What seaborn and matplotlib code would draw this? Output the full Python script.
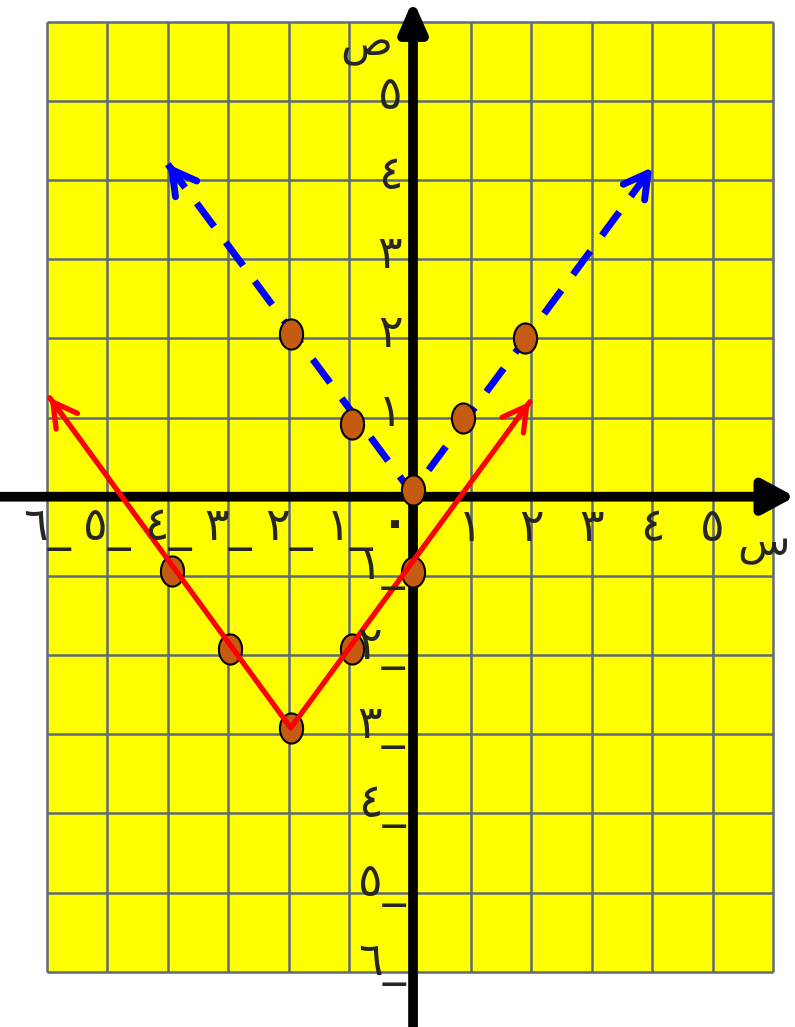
import numpy as np
import matplotlib
matplotlib.use("Agg")
import matplotlib.pyplot as plt
from matplotlib.patches import Rectangle
from matplotlib.path import Path
import seaborn as sns

# blue dashed graph  ص = |س|
blue_line_x = [-4.0, 0.03, 4.0]
blue_line_y = [4.2, 0.05, 4.16]
blue_pts_x = [-1.97, -0.96, 0.05, 0.88, 1.9]
blue_pts_y = [2.05, 0.92, 0.08, 1.0, 2.0]

# red graph  ص = |س+2| - 3
red_line_x = [-5.95, -1.97, 1.98]
red_line_y = [1.25, -2.92, 1.2]
red_pts_x = [-3.93, -2.97, -1.97, -0.96, 0.05]
red_pts_y = [-0.94, -1.92, -2.92, -1.92, -0.95]

ticks = [-6, -5, -4, -3, -2, -1, 1, 2, 3, 4, 5]
digits = "٠١٢٣٤٥٦٧٨٩"


def ar(n):
    s = "".join(digits[int(c)] for c in str(abs(n)))
    return s + "_" if n < 0 else s


sns.set_style("white")
plt.rcParams['font.family'] = ['DejaVu Sans']

fig = plt.figure(figsize=(7.95, 10.27), dpi=100)
ax = fig.add_axes([0, 0, 1, 1])
ax.set_xlim(-6.771, 6.358)
ax.set_ylim(-6.698, 6.274)
ax.axis('off')

# yellow grid paper
ax.add_patch(Rectangle((-6, -6), 12, 12, fc='#ffff00', ec='none', zorder=0))
grid_c = '#5e6b7b'
ax.vlines(np.arange(-6, 7), -6, 6, color=grid_c, lw=1.8, zorder=1)
ax.hlines(np.arange(-6, 7), -6, 6, color=grid_c, lw=1.8, zorder=1)

# coordinate axes
ax.annotate('', xy=(6.358, 0), xytext=(-6.771, 0),
            arrowprops=dict(arrowstyle='-|>,head_length=0.5,head_width=0.27',
                            lw=7, color='black', mutation_scale=38,
                            shrinkA=0, shrinkB=0), zorder=2)
ax.annotate('', xy=(0.05, 6.274), xytext=(0.05, -6.698),
            arrowprops=dict(arrowstyle='-|>,head_length=0.5,head_width=0.22',
                            lw=7, color='black', mutation_scale=36,
                            shrinkA=0, shrinkB=0), zorder=2)

# blue dashed line
sns.lineplot(x=blue_line_x, y=blue_line_y, ax=ax, color='#0000ff', lw=5,
             linestyle=(0, (4.2, 2.8)), zorder=3)
for i in (0, 2):
    tip = np.array([blue_line_x[i], blue_line_y[i]])
    back = np.array([blue_line_x[1], blue_line_y[1]])
    d = (back - tip) / np.hypot(*(back - tip))
    ax.annotate('', xy=tip, xytext=tip + 0.3 * d,
                arrowprops=dict(arrowstyle='->,head_length=0.5,head_width=0.28',
                                lw=5, color='#0000ff', mutation_scale=34,
                                shrinkA=0, shrinkB=0), zorder=3)

# ellipse marker for the points
t = np.linspace(0, 2 * np.pi, 60)
ell = Path(np.column_stack([0.77 * np.cos(t), np.sin(t)]), closed=True)
pt_kw = dict(marker=ell, s=470, color='#c55a11', edgecolor='black', linewidth=1.5)
sns.scatterplot(x=blue_pts_x, y=blue_pts_y, ax=ax, zorder=4, **pt_kw)
sns.scatterplot(x=red_pts_x, y=red_pts_y, ax=ax, zorder=4, **pt_kw)

# red line
sns.lineplot(x=red_line_x, y=red_line_y, ax=ax, color='#ff0000', lw=3.8, zorder=5)
for i in (0, 2):
    tip = np.array([red_line_x[i], red_line_y[i]])
    back = np.array([red_line_x[1], red_line_y[1]])
    d = (back - tip) / np.hypot(*(back - tip))
    ax.annotate('', xy=tip, xytext=tip + 0.3 * d,
                arrowprops=dict(arrowstyle='->,head_length=0.5,head_width=0.28',
                                lw=3.8, color='#ff0000', mutation_scale=34,
                                shrinkA=0, shrinkB=0), zorder=5)

# tick labels
fs = 33
for v in ticks:
    ax.text(v, -0.4, ar(v), fontsize=fs, ha='center', va='center', zorder=6)
for v in ticks:
    if v > 0:
        ax.text(-0.33, v + 0.05, ar(v), fontsize=fs, ha='center',
                va='center', zorder=6)
    else:
        ax.text(-0.47, v + 0.1, ar(v), fontsize=fs, ha='center',
                va='center', zorder=6)
ax.text(-0.25, -0.35, "٠", fontsize=fs, fontweight='bold', ha='center',
        va='center', zorder=6)
ax.text(5.83, -0.6, "س", fontsize=31, ha='center', va='center', zorder=6)
ax.text(-0.73, 5.71, "ص", fontsize=31, ha='center', va='center', zorder=6)

fig.savefig('out.png', dpi=100)
